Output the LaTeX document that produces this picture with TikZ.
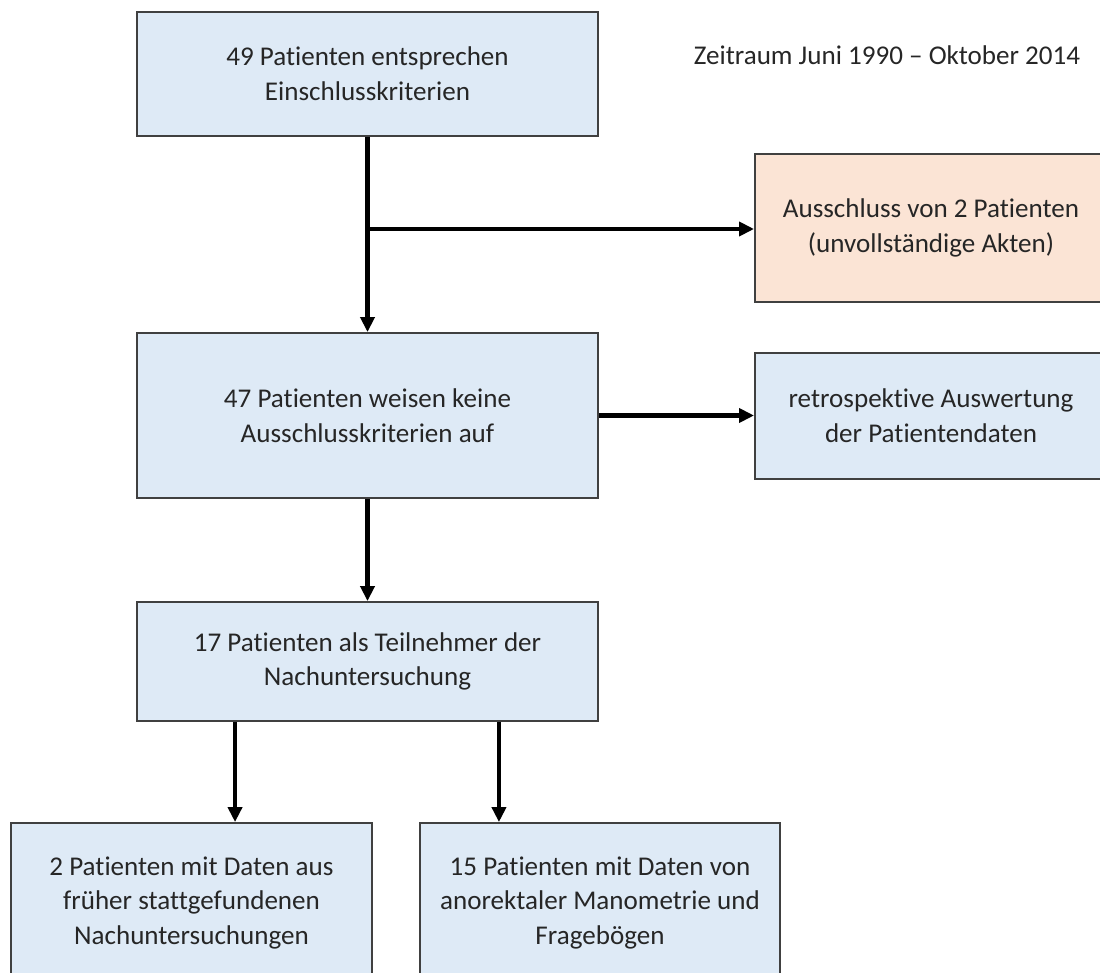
\documentclass[tikz,border=0pt]{standalone}
\usepackage{fontspec}
\setmainfont{Carlito}[Ligatures=NoCommon]
\usetikzlibrary{arrows.meta}
\definecolor{boxblue}{HTML}{DEEAF6}
\definecolor{boxorange}{HTML}{FBE4D5}
\begin{document}
\begin{tikzpicture}[x=0.01cm,y=-0.01cm,
		font=\fontsize{7.7pt}{9.9pt}\selectfont,
		box/.style={draw=black!75,line width=0.5pt,fill=boxblue,text=black!85,align=center,inner sep=0},
		flow/.style={line width=1.25pt,-{Triangle[length=0.15cm,width=0.14cm]}}]
		\useasboundingbox (0,0) rectangle (1100,973);
		\clip (0,0) rectangle (1100,973);
		\node[box,minimum width=4.61cm,minimum height=1.24cm] (einschluss) at (367.5,74) {49 Patienten entsprechen\\Einschlusskriterien};
		\node[text=black!85] (zeitraum) at (887,55) {Zeitraum Juni 1990 – Oktober 2014};
		\node[box,fill=boxorange,minimum width=3.52cm,minimum height=1.48cm] (ausschluss) at (931,228) {Ausschluss von 2 Patienten\\(unvollständige Akten)};
		\node[box,minimum width=4.61cm,minimum height=1.65cm] (keine) at (367.5,415.5) {47 Patienten weisen keine\\Ausschlusskriterien auf};
		\node[box,minimum width=3.52cm,minimum height=1.26cm] (retro) at (931,416) {retrospektive Auswertung\\der Patientendaten};
		\node[box,minimum width=4.61cm,minimum height=1.19cm] (teilnehmer) at (367.5,661.5) {17 Patienten als Teilnehmer der\\Nachuntersuchung};
		\node[box,minimum width=3.61cm,minimum height=1.6cm] (frueher) at (191.5,903) {2 Patienten mit Daten aus\\früher stattgefundenen\\Nachuntersuchungen};
		\node[box,minimum width=3.6cm,minimum height=1.6cm] (mano) at (600,903) {15 Patienten mit Daten von\\anorektaler Manometrie und\\Fragebögen};
		\coordinate (split) at (367.5,229);
		\coordinate (links) at ([xshift=0.99cm]teilnehmer.south west);
		\coordinate (rechts) at ([xshift=-1cm]teilnehmer.south east);
		\draw[flow] (einschluss) -- (keine);
		\draw[flow] (split) -- (split -| ausschluss.west);
		\draw[flow] (keine.east) -- (keine.east -| retro.west);
		\draw[flow] (keine) -- (teilnehmer);
		\draw[flow] (links) -- (links |- frueher.north);
		\draw[flow] (rechts) -- (rechts |- mano.north);
	\end{tikzpicture}
\end{document}
